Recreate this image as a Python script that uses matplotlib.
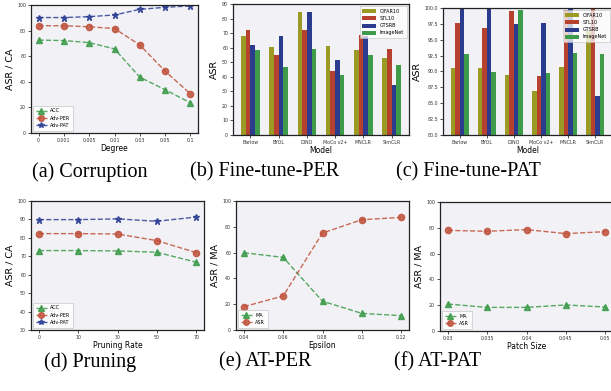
import matplotlib
matplotlib.use("Agg")
import matplotlib.pyplot as plt
import numpy as np

# ─── Data ────────────────────────────────────────────────────────────────────
degree_labels = ["0", "0.001", "0.005", "0.01", "0.03", "0.05", "0.1"]
corr_acc = [72.6, 72.2, 70.6, 65.7, 43.6, 33.8, 23.6]
corr_per = [83.8, 83.8, 83.0, 81.6, 68.8, 48.3, 30.6]
corr_pat = [90.2, 90.2, 90.9, 92.2, 96.6, 98.2, 99.3]

models = ["Barlow", "BYOL", "DINO", "MoCo v2+", "MNCLR", "SimCLR"]
datasets = ["CIFAR10", "STL10", "GTSRB", "ImageNet"]
ft_per = {
    "CIFAR10":  [68.2, 60.6, 84.5, 61.3, 58.5, 53.0],
    "STL10":    [72.3, 55.1, 72.3, 44.1, 68.9, 59.2],
    "GTSRB":    [62.0, 68.2, 84.5, 51.7, 68.0, 34.4],
    "ImageNet": [58.5, 46.8, 59.2, 41.3, 55.1, 48.2],
}
ft_pat = {
    "CIFAR10":  [90.6, 90.6, 89.5, 86.9, 90.7, 96.4],
    "STL10":    [97.7, 96.9, 99.6, 89.3, 99.7, 100.0],
    "GTSRB":    [100.0, 100.0, 97.5, 97.7, 100.0, 86.2],
    "ImageNet": [92.8, 89.9, 99.7, 89.8, 92.9, 92.8],
}

prune_labels = ["0", "10", "30", "50", "70"]
prune_acc = [73.1, 73.1, 72.9, 72.2, 66.8]
prune_per = [82.3, 82.3, 82.1, 78.5, 72.0]
prune_pat = [89.9, 89.9, 90.3, 89.0, 91.3]

eps_labels = ["0.04", "0.06", "0.08", "0.1", "0.12"]
atper_ma = [59.9, 56.3, 22.3, 12.9, 11.1]
atper_asr = [18.1, 26.4, 75.2, 85.5, 87.3]

patch_labels = ["0.03", "0.035", "0.04", "0.045", "0.05"]
atpat_ma = [20.9, 18.3, 18.3, 20.2, 18.6]
atpat_asr = [78.0, 77.3, 78.6, 75.5, 77.0]

captions = ["(a) Corruption", "(b) Fine-tune-PER", "(c) Fine-tune-PAT",
            "(d) Pruning", "(e) AT-PER", "(f) AT-PAT"]

# ─── Style ───────────────────────────────────────────────────────────────────
W, H = 611, 391
BG = "#f2f2f6"
GREEN, RED, NAVY = "#3a9a48", "#c0503a", "#2c3e94"
BAR_COLORS = ["#9b9a25", "#b5412e", "#2b3c8f", "#3d9b49"]
TICK_FS, LABEL_FS, YLABEL_FS, LEG_FS = 3.4, 5.5, 6.8, 3.5


def make_ax(fig, left, right, top, bottom):
    ax = fig.add_axes([left / W, (H - bottom) / H, (right - left) / W, (bottom - top) / H])
    ax.set_facecolor(BG)
    for s in ax.spines.values():
        s.set_color("#222222")
        s.set_linewidth(0.9)
    ax.tick_params(labelsize=TICK_FS, length=2, width=0.6, pad=1.5, colors="#333333")
    return ax


def line_panel(ax, labels, series, ylim, yticks, xlabel, ylabel):
    x = np.arange(len(labels))
    for vals, name, color, marker in series:
        ax.plot(x, vals, linestyle="--", color=color, lw=1.0, alpha=0.85,
                marker=marker, markersize=4.5, markerfacecolor=color,
                markeredgecolor=color, label=name)
    ax.set_xticks(x)
    ax.set_xticklabels(labels)
    ax.margins(x=0.05)
    ax.set_ylim(*ylim)
    ax.set_yticks(yticks)
    ax.set_xlabel(xlabel, fontsize=LABEL_FS, labelpad=1)
    ax.set_ylabel(ylabel, fontsize=YLABEL_FS, labelpad=2)
    leg = ax.legend(loc="lower left", fontsize=LEG_FS, frameon=True,
                    handlelength=2.2, borderpad=0.5, labelspacing=0.5,
                    fancybox=False, markerscale=0.9)
    leg.get_frame().set_linewidth(0.5)
    leg.get_frame().set_edgecolor("#bbbbbb")


def bar_panel(ax, data, ylim, yticks, fmt):
    x = np.arange(len(models))
    width = 0.165
    for i, (name, color) in enumerate(zip(datasets, BAR_COLORS)):
        ax.bar(x + (i - 1.5) * width, data[name], width=width, color=color, label=name)
    ax.set_xticks(x)
    ax.set_xticklabels(models)
    ax.set_xlim(-0.62, len(models) - 0.38)
    ax.set_ylim(*ylim)
    ax.set_yticks(yticks)
    ax.set_yticklabels([fmt.format(v) for v in yticks])
    ax.set_xlabel("Model", fontsize=LABEL_FS, labelpad=1)
    ax.set_ylabel("ASR", fontsize=YLABEL_FS, labelpad=2)
    leg = ax.legend(loc="upper right", fontsize=LEG_FS, frameon=True,
                    handlelength=2.8, handleheight=0.9, borderpad=0.5,
                    labelspacing=0.45, fancybox=False, framealpha=0.75)
    leg.get_frame().set_linewidth(0.5)
    leg.get_frame().set_edgecolor("#bbbbbb")


fig = plt.figure(figsize=(W / 100, H / 100), dpi=100)

# (a) Corruption
ax = make_ax(fig, 31, 198, 5, 133)
line_panel(ax, degree_labels,
           [(corr_acc, "ACC", GREEN, "^"),
            (corr_per, "Adv-PER", RED, "o"),
            (corr_pat, "Adv-PAT", NAVY, "*")],
           (0, 100), range(0, 101, 20), "Degree", "ASR / CA")

# (b) Fine-tune-PER
ax = make_ax(fig, 233, 409, 4, 135)
bar_panel(ax, ft_per, (0, 90), list(range(0, 91, 10)), "{:d}")

# (c) Fine-tune-PAT
ax = make_ax(fig, 443, 612, 8, 135)
bar_panel(ax, ft_pat, (80, 100), list(np.arange(80, 100.1, 2.5)), "{:.1f}")

# (d) Pruning
ax = make_ax(fig, 31, 204, 201, 330)
line_panel(ax, prune_labels,
           [(prune_acc, "ACC", GREEN, "^"),
            (prune_per, "Adv-PER", RED, "o"),
            (prune_pat, "Adv-PAT", NAVY, "*")],
           (30, 100), range(30, 101, 10), "Pruning Rate", "ASR / CA")

# (e) AT-PER
ax = make_ax(fig, 236, 409, 201, 330)
line_panel(ax, eps_labels,
           [(atper_ma, "MA", GREEN, "^"),
            (atper_asr, "ASR", RED, "o")],
           (0, 100), range(0, 101, 20), "Epsilon", "ASR / MA")

# (f) AT-PAT
ax = make_ax(fig, 440, 613, 202, 331)
line_panel(ax, patch_labels,
           [(atpat_ma, "MA", GREEN, "^"),
            (atpat_asr, "ASR", RED, "o")],
           (0, 100), range(0, 101, 20), "Patch Size", "ASR / MA")

# Captions
cap_pos = [(90, 172), (265, 172), (468, 172), (90, 362), (265, 362), (438, 362)]
for (cx, cy), text in zip(cap_pos, captions):
    fig.text(cx / W, 1 - cy / H, text, ha="center", va="center",
             fontsize=14.5, family="Liberation Serif")

fig.savefig("out.png", dpi=100)
